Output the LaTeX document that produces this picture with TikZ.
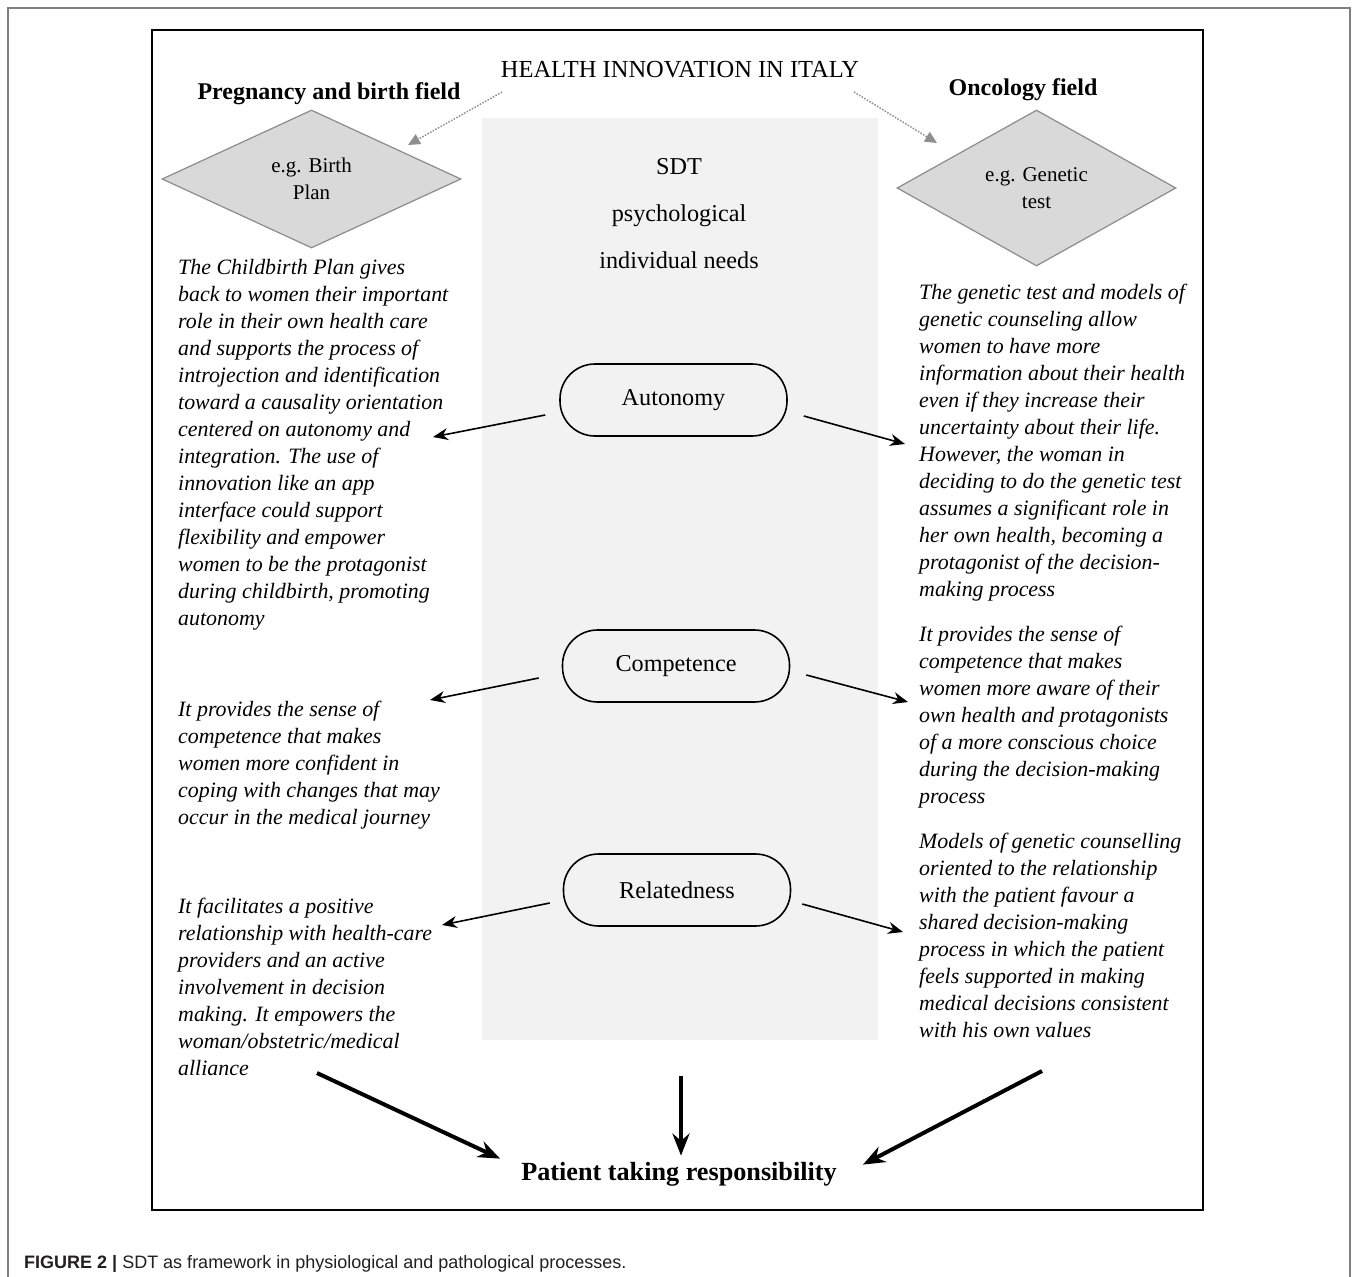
\documentclass[tikz,border=0pt]{standalone}
\usepackage{fontspec}
\setmainfont{Liberation Serif}
\newfontfamily\capfont{Liberation Sans}
\usetikzlibrary{arrows.meta,shapes.geometric}
\definecolor{panel}{HTML}{F2F2F2}
\definecolor{dfill}{HTML}{D9D9D9}
\definecolor{dline}{HTML}{8C8C8C}
\definecolor{dotc}{HTML}{8F8F8F}
\definecolor{outerframe}{HTML}{7F7F7F}
\definecolor{captxt}{HTML}{231F20}
\begin{document}
\begin{tikzpicture}[x=1pt,y=-1pt,
 body/.style={anchor=north west, inner sep=0pt, align=left, font=\fontsize{21.9}{27}\selectfont\itshape},
 need/.style={draw, line width=1.6pt, rounded corners=35pt, minimum width=227pt, minimum height=72pt, inner sep=0pt, font=\fontsize{24.2}{28}\selectfont},
 field/.style={diamond, aspect=2, draw=dline, line width=1.2pt, fill=dfill, inner sep=0pt, align=center, font=\fontsize{21}{27}\selectfont},
 heading/.style={anchor=base, inner sep=0pt, font=\fontsize{24}{28}\selectfont\bfseries},
 thinarrow/.style={draw, line width=1.6pt, -{Stealth[length=15pt,width=12pt]}},
 thickarrow/.style={draw, line width=4pt, -{Stealth[length=22pt,width=17pt]}},
 dotarrow/.style={draw=dotc, dash pattern=on 1.5pt off 1.5pt, line width=1.5pt, -{Triangle[length=12pt,width=11pt,fill=dotc]}}
]
\useasboundingbox (0,0) rectangle (1358,1277);
\fill[white] (0,0) rectangle (1358,1277);
% outer frame (open at bottom)
\draw[outerframe, line width=1.2pt] (8,1277) -- (8,8) -- (1350,8) -- (1350,1277);
% inner frame
\draw[line width=2pt] (152,30) rectangle (1203,1210);
% central panel
\fill[panel] (482,118) rectangle (878,1040);

% titles
\node[anchor=center, inner sep=0pt, font=\fontsize{24.5}{28}\selectfont] (title) at (680,70) {HEALTH INNOVATION IN ITALY};
\node[heading] (lfield) at (329,99) {Pregnancy and birth field};
\node[heading] (rfield) at (1023,95) {Oncology field};

% diamonds
\node[field, minimum width=299pt, minimum height=138pt] (ld) at (311.5,179) {e.g. Birth\\Plan};
\node[field, minimum width=279pt, minimum height=156pt] (rd) at (1036.5,188) {e.g. Genetic\\test};

\coordinate (ls) at (502,92);
\coordinate (le) at (408,145);
\coordinate (rs) at (854,92);
\coordinate (re) at (937,143);
\draw[dotarrow] (ls) -- (le);
\draw[dotarrow] (rs) -- (re);

% SDT text
\node[anchor=north, inner sep=0pt, align=center, font=\fontsize{24.2}{47}\selectfont] (sdt) at (679,158) {SDT\\psychological\\individual needs};

% needs
\node[need] (aut) at (673.5,400) {Autonomy};
\node[need] (com) at (676,666) {Competence};
\node[need] (rel) at (677,890) {Relatedness};

% left texts
\node[body] (l1) at (178,259) {The Childbirth Plan gives\\back to women their important\\role in their own health care\\and supports the process of\\introjection and identification\\toward a causality orientation\\centered on autonomy and\\integration. The use of\\innovation like an app\\interface could support\\flexibility and empower\\women to be the protagonist\\during childbirth, promoting\\autonomy};
\node[body] (l2) at (178,701) {It provides the sense of\\competence that makes\\women more confident in\\coping with changes that may\\occur in the medical journey};
\node[body] (l3) at (178,898) {It facilitates a positive\\relationship with health-care\\providers and an active\\involvement in decision\\making. It empowers the\\woman/obstetric/medical\\alliance};

% right texts
\node[body] (r1) at (919,284) {The genetic test and models of\\genetic counseling allow\\women to have more\\information about their health\\even if they increase their\\uncertainty about their life.\\However, the woman in\\deciding to do the genetic test\\assumes a significant role in\\her own health, becoming a\\protagonist of the decision-\\making process};
\node[body] (r2) at (919,626) {It provides the sense of\\competence that makes\\women more aware of their\\own health and protagonists\\of a more conscious choice\\during the decision-making\\process};
\node[body] (r3) at (919,833) {Models of genetic counselling\\oriented to the relationship\\with the patient favour a\\shared decision-making\\process in which the patient\\feels supported in making\\medical decisions consistent\\with his own values};

% thin arrows
\coordinate (a1) at (433,437);
\coordinate (a2) at (905,444);
\coordinate (c1) at (430,700);
\coordinate (c2) at (908,702);
\coordinate (b1) at (442,925);
\coordinate (b2) at (903,932);
\draw[thinarrow] ([shift={(-14,15)}]aut.west) -- (a1);
\draw[thinarrow] ([shift={(16,16)}]aut.east) -- (a2);
\draw[thinarrow] ([shift={(-23,12)}]com.west) -- (c1);
\draw[thinarrow] ([shift={(16,9)}]com.east) -- (c2);
\draw[thinarrow] ([shift={(-13,13)}]rel.west) -- (b1);
\draw[thinarrow] ([shift={(11,14)}]rel.east) -- (b2);

% result
\node[anchor=base, inner sep=0pt, font=\fontsize{26.2}{30}\selectfont\bfseries] (pat) at (679,1180) {Patient taking responsibility};
\coordinate (s1) at (317,1073);
\coordinate (s2) at (681,1076);
\coordinate (s3) at (1042,1071);
\draw[thickarrow] (s1) -- ([shift={(-21,-3)}]pat.north west);
\draw[thickarrow] (s2) -- ([shift={(2,-6)}]pat.north);
\draw[thickarrow] (s3) -- ([shift={(26,3)}]pat.north east);

% caption
\node[anchor=base west, inner sep=0pt, text=captxt, font=\capfont\fontsize{18}{21}\selectfont] (cap) at (24,1268) {\textbf{FIGURE 2 |} SDT as framework in physiological and pathological processes.};
\end{tikzpicture}
\end{document}
